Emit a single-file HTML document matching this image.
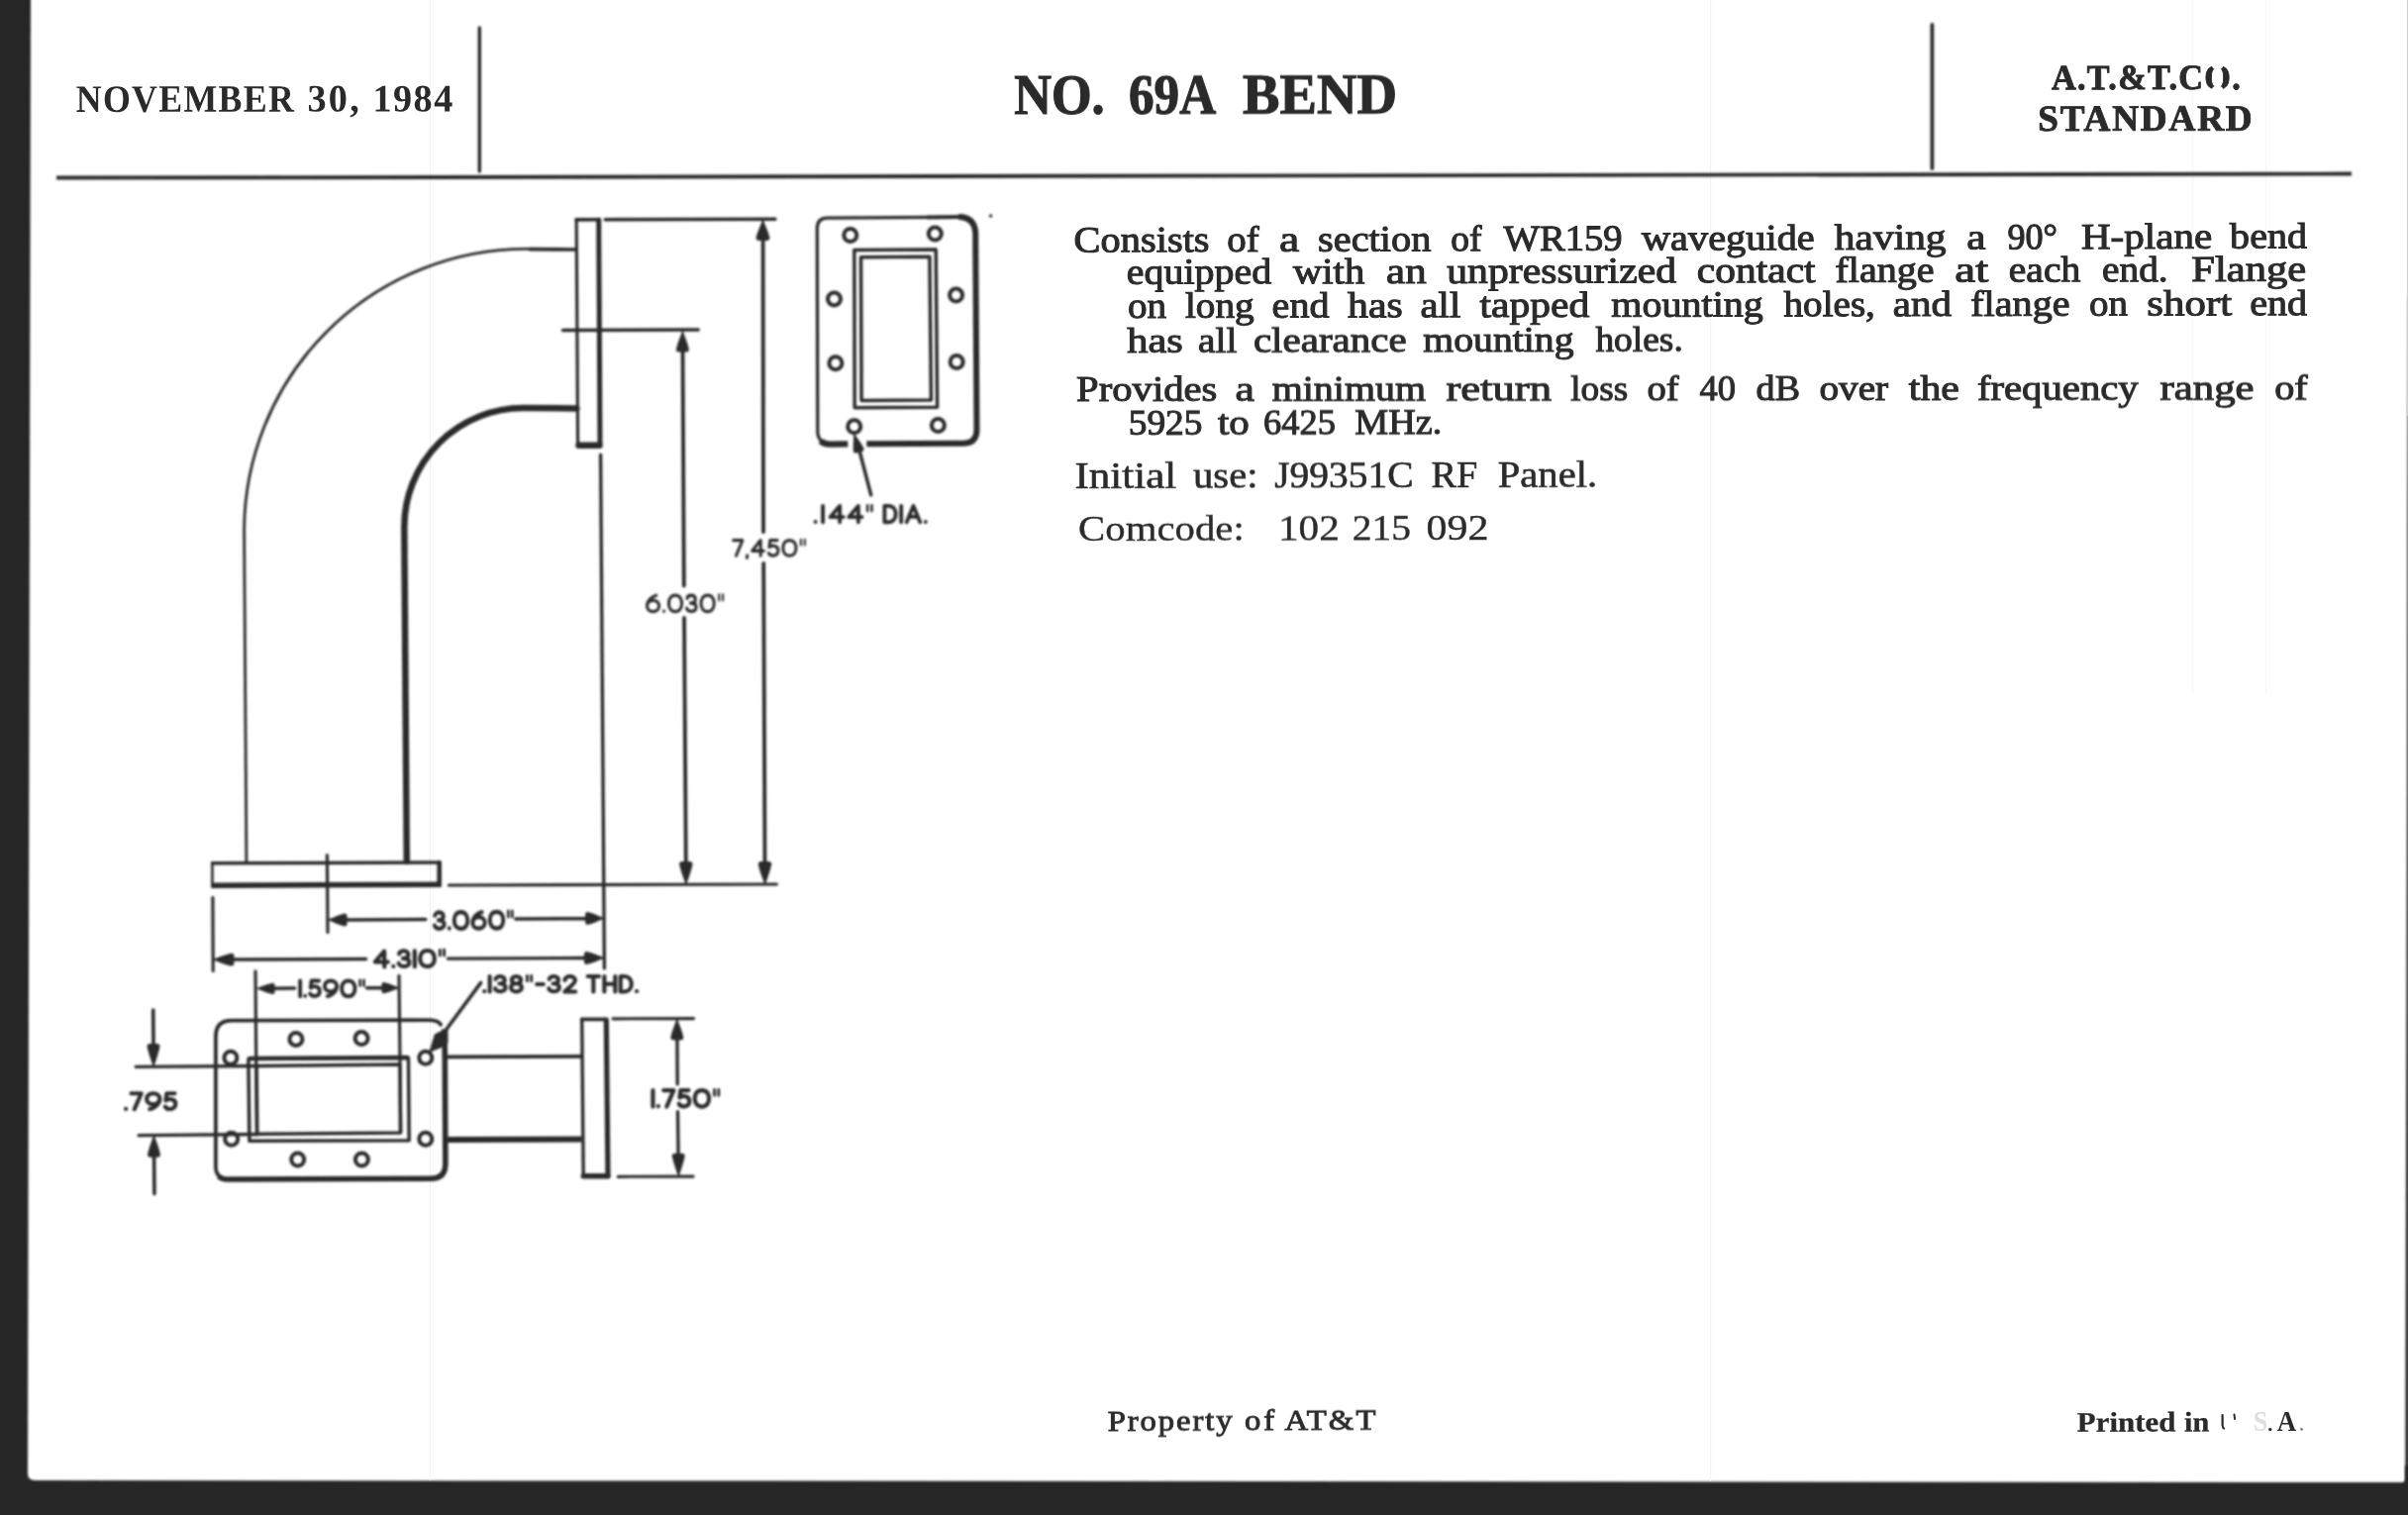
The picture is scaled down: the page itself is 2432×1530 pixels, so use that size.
<!DOCTYPE html>
<html><head><meta charset="utf-8"><title>No. 69A Bend</title>
<style>html,body{margin:0;padding:0;background:#fff;}body{width:2432px;height:1530px;overflow:hidden;}svg{display:block;font-family:"Liberation Serif",serif;}</style>
</head><body>
<svg width="2432" height="1530" viewBox="0 0 2432 1530">
<defs><filter id="soft" x="0" y="0" width="2432" height="1530" filterUnits="userSpaceOnUse"><feGaussianBlur stdDeviation="0.95"/></filter>
<filter id="softt" x="0" y="0" width="2432" height="1530" filterUnits="userSpaceOnUse"><feGaussianBlur stdDeviation="0.72"/></filter>
<filter id="soft2" x="0" y="0" width="2432" height="1530" filterUnits="userSpaceOnUse"><feGaussianBlur stdDeviation="1.2"/></filter></defs>
<rect x="0" y="0" width="2432" height="1530" fill="#ffffff"/>
<g filter="url(#soft2)">
<path d="M-5 -5 L31 -5 L31 0 L28 1488 Q28 1495 35 1495 L2426 1497 Q2429.4 1497 2429.4 1493 L2429.4 1480 L2440 1480 L2440 1540 L-5 1540 Z" fill="#262626"/>
</g>
<path d="M2432 300 L2431.3 520 L2430.9 800 L2429.9 1200 L2429.2 1500 L2433 1500 L2433 300 Z" fill="#262626" filter="url(#soft)"/>
<rect x="2431" y="0" width="1" height="420" fill="#cfcfcf"/>
<rect x="434" y="0" width="1.2" height="1495" fill="#f3f3f3"/>
<rect x="2214" y="0" width="1.2" height="700" fill="#f6f6f6"/>
<rect x="1727" y="0" width="1.2" height="1496" fill="#f3f3f3"/>
<rect x="2288" y="0" width="1.2" height="700" fill="#f7f7f7"/>
<g filter="url(#soft)" stroke="#2c2c2c" fill="none">
<path d="M57 177.6 L2375 173.6 L2375 177.4 L57 181.6 Z" fill="#2c2c2c" stroke="none"/>
<line x1="484.3" y1="28.0" x2="484.3" y2="173.0" stroke-width="3.4" stroke-linecap="round"/>
<line x1="1951.4" y1="25.0" x2="1951.4" y2="170.0" stroke-width="3.8" stroke-linecap="round"/>
<line x1="582.2" y1="221.6" x2="583.6" y2="449.0" stroke-width="3.2" stroke-linecap="round"/>
<line x1="582.0" y1="221.9" x2="605.0" y2="221.7" stroke-width="3.6" stroke-linecap="round"/>
<line x1="604.7" y1="222.0" x2="606.0" y2="449.0" stroke-width="5" stroke-linecap="round"/>
<line x1="584.5" y1="449.8" x2="605.5" y2="449.8" stroke-width="6.6" stroke-linecap="round"/>
<line x1="581.5" y1="252.0" x2="535.0" y2="251.6" stroke-width="3.6" stroke-linecap="round"/>
<path d="M540 251.5 L531.7 251.4 A285 285 0 0 0 246.6 536 L248.9 871.5" stroke-width="2.8" fill="none" stroke-linecap="round" stroke-linejoin="round" />
<path d="M582.5 412.4 L528.6 412 A120.3 120.3 0 0 0 408.3 532.3 L410.8 870" stroke-width="6.5" fill="none" stroke-linecap="round" stroke-linejoin="round" />
<line x1="214.4" y1="871.8" x2="214.4" y2="894.0" stroke-width="2.6" stroke-linecap="round"/>
<line x1="214.4" y1="871.8" x2="443.7" y2="871.0" stroke-width="3.4" stroke-linecap="round"/>
<line x1="443.7" y1="871.0" x2="443.7" y2="893.3" stroke-width="4.6" stroke-linecap="round"/>
<line x1="213.2" y1="894.2" x2="445.8" y2="893.2" stroke-width="5.6" stroke-linecap="butt"/>
<line x1="611.2" y1="221.7" x2="782.9" y2="221.3" stroke-width="3.5" stroke-linecap="round"/>
<line x1="770.6" y1="240.0" x2="771.0" y2="537.2" stroke-width="3.8" stroke-linecap="round"/>
<line x1="771.2" y1="569.0" x2="772.5" y2="875.0" stroke-width="3.8" stroke-linecap="round"/>
<path transform="translate(770.5 222.8) rotate(360.00)" d="M0 0 C1.90 5.46 5.40 12.09 6.35 17.55 Q6.35 19.50 3.81 19.50 L-3.81 19.50 Q-6.35 19.50 -6.35 17.55 C-5.40 12.09 -1.90 5.46 0 0 Z" fill="#2c2c2c" stroke="#2c2c2c" stroke-width="1.2" stroke-linejoin="round"/>
<path transform="translate(772.6 892.6) rotate(179.77)" d="M0 0 C1.83 6.16 5.18 13.64 6.10 19.80 Q6.10 22.00 3.66 22.00 L-3.66 22.00 Q-6.10 22.00 -6.10 19.80 C-5.18 13.64 -1.83 6.16 0 0 Z" fill="#2c2c2c" stroke="#2c2c2c" stroke-width="1.2" stroke-linejoin="round"/>
<line x1="568.5" y1="333.6" x2="705.2" y2="333.1" stroke-width="3.5" stroke-linecap="round"/>
<line x1="689.5" y1="350.0" x2="690.8" y2="591.5" stroke-width="3.8" stroke-linecap="round"/>
<line x1="691.0" y1="624.0" x2="692.8" y2="875.0" stroke-width="3.8" stroke-linecap="round"/>
<path transform="translate(689.4 335.0) rotate(360.00)" d="M0 0 C1.75 5.60 4.97 12.40 5.85 18.00 Q5.85 20.00 3.51 20.00 L-3.51 20.00 Q-5.85 20.00 -5.85 18.00 C-4.97 12.40 -1.75 5.60 0 0 Z" fill="#2c2c2c" stroke="#2c2c2c" stroke-width="1.2" stroke-linejoin="round"/>
<path transform="translate(692.9 892.6) rotate(179.77)" d="M0 0 C1.83 6.16 5.18 13.64 6.10 19.80 Q6.10 22.00 3.66 22.00 L-3.66 22.00 Q-6.10 22.00 -6.10 19.80 C-5.18 13.64 -1.83 6.16 0 0 Z" fill="#2c2c2c" stroke="#2c2c2c" stroke-width="1.2" stroke-linejoin="round"/>
<line x1="606.6" y1="459.2" x2="610.4" y2="977.9" stroke-width="3.4" stroke-linecap="round"/>
<line x1="453.3" y1="894.0" x2="784.4" y2="893.0" stroke-width="3.2" stroke-linecap="round"/>
<line x1="330.4" y1="863.5" x2="331.0" y2="941.5" stroke-width="3.2" stroke-linecap="round"/>
<line x1="214.9" y1="906.4" x2="215.2" y2="980.4" stroke-width="3.2" stroke-linecap="round"/>
<path transform="translate(332.0 929.0) rotate(270.00)" d="M0 0 C1.75 5.04 4.97 11.16 5.85 16.20 Q5.85 18.00 3.51 18.00 L-3.51 18.00 Q-5.85 18.00 -5.85 16.20 C-4.97 11.16 -1.75 5.04 0 0 Z" fill="#2c2c2c" stroke="#2c2c2c" stroke-width="1.2" stroke-linejoin="round"/>
<line x1="349.0" y1="929.0" x2="429.8" y2="928.6" stroke-width="3.5" stroke-linecap="round"/>
<line x1="520.8" y1="928.0" x2="592.0" y2="927.7" stroke-width="3.5" stroke-linecap="round"/>
<path transform="translate(609.2 927.4) rotate(90.00)" d="M0 0 C1.75 4.90 4.97 10.85 5.85 15.75 Q5.85 17.50 3.51 17.50 L-3.51 17.50 Q-5.85 17.50 -5.85 15.75 C-4.97 10.85 -1.75 4.90 0 0 Z" fill="#2c2c2c" stroke="#2c2c2c" stroke-width="1.2" stroke-linejoin="round"/>
<g transform="rotate(-0.5 478.1 929.4) translate(437.40 919.60) scale(0.1801 0.1960)" fill="none" stroke-linecap="round" stroke-linejoin="round">
<path transform="translate(0.0 0)" d="M10 24 C14 2 58 2 58 28 C58 44 42 48 30 48 C46 48 62.5 54 62.5 70 C62.5 98 12 98 7.5 74" stroke-width="21.5"/>
<path transform="translate(83.0 0)" d="M7.5 90 L7.5 91" stroke-width="21.5"/>
<path transform="translate(111.0 0)" d="M45 7.5 C20 7.5 7.5 26 7.5 50 C7.5 74 20 92.5 45 92.5 C70 92.5 82.5 74 82.5 50 C82.5 26 70 7.5 45 7.5 Z" stroke-width="21.5"/>
<path transform="translate(214.0 0)" d="M60 8 C36 12 7.5 36 7.5 63 C7.5 80 22 92.5 42 92.5 C62 92.5 76.5 80 76.5 63 C76.5 46 62 34 42 34 C24 34 10 46 8 60" stroke-width="21.5"/>
<path transform="translate(311.0 0)" d="M45 7.5 C20 7.5 7.5 26 7.5 50 C7.5 74 20 92.5 45 92.5 C70 92.5 82.5 74 82.5 50 C82.5 26 70 7.5 45 7.5 Z" stroke-width="21.5"/>
<path transform="translate(414.0 0)" d="M8 4 L8 34 M30 4 L30 34" stroke-width="15"/>
</g>
<path transform="translate(215.9 969.1) rotate(270.00)" d="M0 0 C1.75 5.60 4.97 12.40 5.85 18.00 Q5.85 20.00 3.51 20.00 L-3.51 20.00 Q-5.85 20.00 -5.85 18.00 C-4.97 12.40 -1.75 5.60 0 0 Z" fill="#2c2c2c" stroke="#2c2c2c" stroke-width="1.2" stroke-linejoin="round"/>
<line x1="235.0" y1="969.0" x2="369.6" y2="968.5" stroke-width="3.4" stroke-linecap="round"/>
<line x1="452.4" y1="968.1" x2="591.0" y2="967.5" stroke-width="3.4" stroke-linecap="round"/>
<path transform="translate(609.5 967.4) rotate(90.00)" d="M0 0 C1.75 5.32 4.97 11.78 5.85 17.10 Q5.85 19.00 3.51 19.00 L-3.51 19.00 Q-5.85 19.00 -5.85 17.10 C-4.97 11.78 -1.75 5.32 0 0 Z" fill="#2c2c2c" stroke="#2c2c2c" stroke-width="1.2" stroke-linejoin="round"/>
<g transform="rotate(-0.5 413.8 968.2) translate(377.30 958.80) scale(0.1944 0.1880)" fill="none" stroke-linecap="round" stroke-linejoin="round">
<path transform="translate(0.0 0)" d="M56 92.5 L56 7.5 L7.5 66 L74.5 66" stroke-width="21.5"/>
<path transform="translate(95.0 0)" d="M7.5 90 L7.5 91" stroke-width="21.5"/>
<path transform="translate(123.0 0)" d="M10 24 C14 2 58 2 58 28 C58 44 42 48 30 48 C46 48 62.5 54 62.5 70 C62.5 98 12 98 7.5 74" stroke-width="21.5"/>
<path transform="translate(206.0 0)" d="M7.5 7.5 L7.5 92.5" stroke-width="21.5"/>
<path transform="translate(234.0 0)" d="M45 7.5 C20 7.5 7.5 26 7.5 50 C7.5 74 20 92.5 45 92.5 C70 92.5 82.5 74 82.5 50 C82.5 26 70 7.5 45 7.5 Z" stroke-width="21.5"/>
<path transform="translate(337.0 0)" d="M8 4 L8 34 M30 4 L30 34" stroke-width="15"/>
</g>
<line x1="258.0" y1="980.9" x2="259.3" y2="1146.0" stroke-width="3.2" stroke-linecap="round"/>
<line x1="403.0" y1="985.4" x2="404.8" y2="1143.4" stroke-width="3.2" stroke-linecap="round"/>
<path transform="translate(260.0 998.3) rotate(270.00)" d="M0 0 C1.52 4.76 4.29 10.54 5.05 15.30 Q5.05 17.00 3.03 17.00 L-3.03 17.00 Q-5.05 17.00 -5.05 15.30 C-4.29 10.54 -1.52 4.76 0 0 Z" fill="#2c2c2c" stroke="#2c2c2c" stroke-width="1.2" stroke-linejoin="round"/>
<line x1="275.0" y1="998.2" x2="297.5" y2="998.1" stroke-width="3.5" stroke-linecap="round"/>
<line x1="370.5" y1="997.8" x2="388.0" y2="997.7" stroke-width="3.5" stroke-linecap="round"/>
<path transform="translate(402.5 997.6) rotate(90.00)" d="M0 0 C1.52 4.62 4.29 10.23 5.05 14.85 Q5.05 16.50 3.03 16.50 L-3.03 16.50 Q-5.05 16.50 -5.05 14.85 C-4.29 10.23 -1.52 4.62 0 0 Z" fill="#2c2c2c" stroke="#2c2c2c" stroke-width="1.2" stroke-linejoin="round"/>
<g transform="rotate(0 335.4 998.4) translate(301.80 989.20) scale(0.1780 0.1830)" fill="none" stroke-linecap="round" stroke-linejoin="round">
<path transform="translate(0.0 0)" d="M7.5 7.5 L7.5 92.5" stroke-width="21.5"/>
<path transform="translate(28.0 0)" d="M7.5 90 L7.5 91" stroke-width="21.5"/>
<path transform="translate(56.0 0)" d="M58 7.5 L16 7.5 L11 46 C28 32 62.5 36 62.5 64 C62.5 96 18 99 7.5 78" stroke-width="21.5"/>
<path transform="translate(139.0 0)" d="M24 92 C48 88 76.5 64 76.5 37 C76.5 20 62 7.5 42 7.5 C22 7.5 7.5 20 7.5 37 C7.5 54 22 66 42 66 C60 66 74 54 76 40" stroke-width="21.5"/>
<path transform="translate(236.0 0)" d="M45 7.5 C20 7.5 7.5 26 7.5 50 C7.5 74 20 92.5 45 92.5 C70 92.5 82.5 74 82.5 50 C82.5 26 70 7.5 45 7.5 Z" stroke-width="21.5"/>
<path transform="translate(339.0 0)" d="M8 4 L8 34 M30 4 L30 34" stroke-width="15"/>
</g>
<g transform="rotate(0 776.8 553.4) translate(739.30 544.20) scale(0.1750 0.1840)" fill="none" stroke-linecap="round" stroke-linejoin="round">
<path transform="translate(0.0 0)" d="M7.5 7.5 L60.5 7.5 L24 92.5" stroke-width="17"/>
<path transform="translate(81.0 0)" d="M7.5 90 L7.5 91 L5 104" stroke-width="17"/>
<path transform="translate(109.0 0)" d="M56 92.5 L56 7.5 L7.5 66 L74.5 66" stroke-width="17"/>
<path transform="translate(204.0 0)" d="M58 7.5 L16 7.5 L11 46 C28 32 62.5 36 62.5 64 C62.5 96 18 99 7.5 78" stroke-width="17"/>
<path transform="translate(287.0 0)" d="M45 7.5 C20 7.5 7.5 26 7.5 50 C7.5 74 20 92.5 45 92.5 C70 92.5 82.5 74 82.5 50 C82.5 26 70 7.5 45 7.5 Z" stroke-width="17"/>
<path transform="translate(390.0 0)" d="M8 4 L8 34 M30 4 L30 34" stroke-width="12"/>
</g>
<g transform="rotate(0 691.9 609.4) translate(652.20 599.70) scale(0.1754 0.1940)" fill="none" stroke-linecap="round" stroke-linejoin="round">
<path transform="translate(0.0 0)" d="M60 8 C36 12 7.5 36 7.5 63 C7.5 80 22 92.5 42 92.5 C62 92.5 76.5 80 76.5 63 C76.5 46 62 34 42 34 C24 34 10 46 8 60" stroke-width="17"/>
<path transform="translate(97.0 0)" d="M7.5 90 L7.5 91" stroke-width="17"/>
<path transform="translate(125.0 0)" d="M45 7.5 C20 7.5 7.5 26 7.5 50 C7.5 74 20 92.5 45 92.5 C70 92.5 82.5 74 82.5 50 C82.5 26 70 7.5 45 7.5 Z" stroke-width="17"/>
<path transform="translate(228.0 0)" d="M10 24 C14 2 58 2 58 28 C58 44 42 48 30 48 C46 48 62.5 54 62.5 70 C62.5 98 12 98 7.5 74" stroke-width="17"/>
<path transform="translate(311.0 0)" d="M45 7.5 C20 7.5 7.5 26 7.5 50 C7.5 74 20 92.5 45 92.5 C70 92.5 82.5 74 82.5 50 C82.5 26 70 7.5 45 7.5 Z" stroke-width="17"/>
<path transform="translate(414.0 0)" d="M8 4 L8 34 M30 4 L30 34" stroke-width="12"/>
</g>
<g transform="rotate(0 879.2 519.1) translate(822.10 509.40) scale(0.1972 0.1940)" fill="none" stroke-linecap="round" stroke-linejoin="round">
<path transform="translate(0.0 0)" d="M7.5 90 L7.5 91" stroke-width="19.5"/>
<path transform="translate(38.0 0)" d="M7.5 7.5 L7.5 92.5" stroke-width="19.5"/>
<path transform="translate(76.0 0)" d="M56 92.5 L56 7.5 L7.5 66 L74.5 66" stroke-width="19.5"/>
<path transform="translate(171.0 0)" d="M56 92.5 L56 7.5 L7.5 66 L74.5 66" stroke-width="19.5"/>
<path transform="translate(266.0 0)" d="M8 4 L8 34 M30 4 L30 34" stroke-width="13"/>
<path transform="translate(354.0 0)" d="M7.5 7.5 L7.5 92.5 L26 92.5 C78 92.5 78 7.5 26 7.5 Z" stroke-width="19.5"/>
<path transform="translate(439.0 0)" d="M7.5 7.5 L7.5 92.5" stroke-width="19.5"/>
<path transform="translate(467.0 0)" d="M7.5 92.5 L42 7.5 L76.5 92.5 M20 64 L64 64" stroke-width="19.5"/>
<path transform="translate(564.0 0)" d="M7.5 90 L7.5 91" stroke-width="19.5"/>
</g>
<path d="M220.90 1187.20 Q217.9 1184.20 217.9 1178.2 L217.9 1046.6 Q217.9 1030.6 233.9 1030.6 L432.9 1030.1999999999998 Q442.9 1030.3999999999999 445.09999999999997 1034.8" stroke-width="3.8" fill="none" stroke-linecap="round" stroke-linejoin="round" />
<path d="M449.0 1039.1 L449.29999999999995 1070.6 L449.9 1175.2 Q449.9 1190.2 434.9 1190.2 L229.9 1191.0 Q223.90 1191.0 220.90 1187.80" stroke-width="5.6" fill="none" stroke-linecap="butt" stroke-linejoin="round" />
<circle cx="298.9" cy="1049.4" r="6.5" stroke-width="4.0" fill="none"/>
<circle cx="365.1" cy="1048.6" r="6.5" stroke-width="4.0" fill="none"/>
<circle cx="232.9" cy="1068.2" r="6.5" stroke-width="4.0" fill="none"/>
<circle cx="233.7" cy="1150.2" r="6.5" stroke-width="4.0" fill="none"/>
<circle cx="429.8" cy="1068.2" r="6.5" stroke-width="4.0" fill="none"/>
<circle cx="429.8" cy="1150.2" r="6.5" stroke-width="4.0" fill="none"/>
<circle cx="300.7" cy="1171.0" r="6.5" stroke-width="4.0" fill="none"/>
<circle cx="365.4" cy="1171.0" r="6.5" stroke-width="4.0" fill="none"/>
<path d="M250.9 1069.4 L412.5 1068.4 L413.2 1151.7 L251.9 1152.3 Z" stroke-width="3.5" fill="none" stroke-linecap="round" stroke-linejoin="round" />
<line x1="252.0" y1="1068.9" x2="411.5" y2="1067.9" stroke-width="4.2" stroke-linecap="round"/>
<path d="M259.1 1076.5 L404 1075.1 L404.4 1144.1 L259.8 1145.3 Z" stroke-width="3.5" fill="none" stroke-linecap="round" stroke-linejoin="round" />
<line x1="137.1" y1="1077.3" x2="259.0" y2="1076.5" stroke-width="3.3" stroke-linecap="round"/>
<line x1="140.1" y1="1146.7" x2="259.5" y2="1145.5" stroke-width="3.3" stroke-linecap="round"/>
<line x1="154.7" y1="1020.0" x2="155.0" y2="1058.0" stroke-width="3.6" stroke-linecap="round"/>
<path transform="translate(155.1 1076.6) rotate(179.77)" d="M0 0 C1.75 6.16 4.97 13.64 5.85 19.80 Q5.85 22.00 3.51 22.00 L-3.51 22.00 Q-5.85 22.00 -5.85 19.80 C-4.97 13.64 -1.75 6.16 0 0 Z" fill="#2c2c2c" stroke="#2c2c2c" stroke-width="1.2" stroke-linejoin="round"/>
<path transform="translate(155.5 1147.2) rotate(360.00)" d="M0 0 C1.75 5.88 4.97 13.02 5.85 18.90 Q5.85 21.00 3.51 21.00 L-3.51 21.00 Q-5.85 21.00 -5.85 18.90 C-4.97 13.02 -1.75 5.88 0 0 Z" fill="#2c2c2c" stroke="#2c2c2c" stroke-width="1.2" stroke-linejoin="round"/>
<line x1="155.6" y1="1165.0" x2="155.9" y2="1205.6" stroke-width="3.6" stroke-linecap="round"/>
<g transform="rotate(0 152.2 1112.2) translate(125.70 1102.90) scale(0.1924 0.1870)" fill="none" stroke-linecap="round" stroke-linejoin="round">
<path transform="translate(0.0 0)" d="M7.5 90 L7.5 91" stroke-width="21.5"/>
<path transform="translate(28.0 0)" d="M7.5 7.5 L60.5 7.5 L24 92.5" stroke-width="21.5"/>
<path transform="translate(109.0 0)" d="M24 92 C48 88 76.5 64 76.5 37 C76.5 20 62 7.5 42 7.5 C22 7.5 7.5 20 7.5 37 C7.5 54 22 66 42 66 C60 66 74 54 76 40" stroke-width="21.5"/>
<path transform="translate(206.0 0)" d="M58 7.5 L16 7.5 L11 46 C28 32 62.5 36 62.5 64 C62.5 96 18 99 7.5 78" stroke-width="21.5"/>
</g>
<line x1="485.7" y1="992.4" x2="449.0" y2="1042.0" stroke-width="3.6" stroke-linecap="round"/>
<path d="M439.6 1045 L451.6 1039 L451.8 1052.5 L444.8 1057.5 L434.4 1061.8 Z" fill="#2c2c2c" stroke="#2c2c2c" stroke-width="1.6" stroke-linejoin="round"/>
<g transform="rotate(0 566.1 993.7) translate(487.80 984.60) scale(0.1923 0.1820)" fill="none" stroke-linecap="round" stroke-linejoin="round">
<path transform="translate(0.0 0)" d="M7.5 90 L7.5 91" stroke-width="21.5"/>
<path transform="translate(28.0 0)" d="M7.5 7.5 L7.5 92.5" stroke-width="21.5"/>
<path transform="translate(56.0 0)" d="M10 24 C14 2 58 2 58 28 C58 44 42 48 30 48 C46 48 62.5 54 62.5 70 C62.5 98 12 98 7.5 74" stroke-width="21.5"/>
<path transform="translate(139.0 0)" d="M36 48 C20 48 12 39 12 28 C12 16 22 7.5 36 7.5 C50 7.5 60 16 60 28 C60 39 52 48 36 48 C18 48 7.5 58 7.5 70 C7.5 83 20 92.5 36 92.5 C52 92.5 64.5 83 64.5 70 C64.5 58 54 48 36 48 Z" stroke-width="21.5"/>
<path transform="translate(224.0 0)" d="M8 4 L8 34 M30 4 L30 34" stroke-width="15"/>
<path transform="translate(275.0 0)" d="M7.5 52 L42.5 52" stroke-width="21.5"/>
<path transform="translate(338.0 0)" d="M10 24 C14 2 58 2 58 28 C58 44 42 48 30 48 C46 48 62.5 54 62.5 70 C62.5 98 12 98 7.5 74" stroke-width="21.5"/>
<path transform="translate(421.0 0)" d="M9 30 C9 0 63 0 63 30 C63 50 30 68 8 92.5 L64.5 92.5" stroke-width="21.5"/>
<path transform="translate(543.0 0)" d="M7.5 7.5 L66.5 7.5 M37 7.5 L37 92.5" stroke-width="21.5"/>
<path transform="translate(630.0 0)" d="M7.5 7.5 L7.5 92.5 M64.5 7.5 L64.5 92.5 M7.5 50 L64.5 50" stroke-width="21.5"/>
<path transform="translate(715.0 0)" d="M7.5 7.5 L7.5 92.5 L26 92.5 C78 92.5 78 7.5 26 7.5 Z" stroke-width="21.5"/>
<path transform="translate(800.0 0)" d="M7.5 90 L7.5 91" stroke-width="21.5"/>
</g>
<line x1="451.2" y1="1067.4" x2="587.5" y2="1066.8" stroke-width="3.8" stroke-linecap="round"/>
<line x1="452.0" y1="1151.0" x2="587.0" y2="1150.5" stroke-width="6" stroke-linecap="butt"/>
<line x1="587.7" y1="1029.3" x2="589.2" y2="1187.7" stroke-width="3.4" stroke-linecap="round"/>
<line x1="587.7" y1="1029.3" x2="612.1" y2="1029.3" stroke-width="3.7" stroke-linecap="round"/>
<line x1="612.3" y1="1030.0" x2="614.0" y2="1187.6" stroke-width="5.2" stroke-linecap="round"/>
<line x1="589.2" y1="1187.8" x2="614.0" y2="1187.8" stroke-width="5.4" stroke-linecap="round"/>
<line x1="619.1" y1="1028.8" x2="700.5" y2="1028.6" stroke-width="3.2" stroke-linecap="round"/>
<line x1="624.3" y1="1188.3" x2="700.1" y2="1188.1" stroke-width="3.2" stroke-linecap="round"/>
<path transform="translate(683.8 1029.8) rotate(360.00)" d="M0 0 C1.75 5.60 4.97 12.40 5.85 18.00 Q5.85 20.00 3.51 20.00 L-3.51 20.00 Q-5.85 20.00 -5.85 18.00 C-4.97 12.40 -1.75 5.60 0 0 Z" fill="#2c2c2c" stroke="#2c2c2c" stroke-width="1.2" stroke-linejoin="round"/>
<line x1="683.9" y1="1047.0" x2="684.2" y2="1094.9" stroke-width="3.4" stroke-linecap="round"/>
<line x1="684.5" y1="1122.7" x2="685.1" y2="1166.0" stroke-width="3.4" stroke-linecap="round"/>
<path transform="translate(685.3 1187.3) rotate(179.77)" d="M0 0 C1.75 6.16 4.97 13.64 5.85 19.80 Q5.85 22.00 3.51 22.00 L-3.51 22.00 Q-5.85 22.00 -5.85 19.80 C-4.97 13.64 -1.75 6.16 0 0 Z" fill="#2c2c2c" stroke="#2c2c2c" stroke-width="1.2" stroke-linejoin="round"/>
<g transform="rotate(0 692.6 1109.3) translate(658.00 1099.60) scale(0.1920 0.1940)" fill="none" stroke-linecap="round" stroke-linejoin="round">
<path transform="translate(0.0 0)" d="M7.5 7.5 L7.5 92.5" stroke-width="21.5"/>
<path transform="translate(28.0 0)" d="M7.5 90 L7.5 91" stroke-width="21.5"/>
<path transform="translate(56.0 0)" d="M7.5 7.5 L60.5 7.5 L24 92.5" stroke-width="21.5"/>
<path transform="translate(137.0 0)" d="M58 7.5 L16 7.5 L11 46 C28 32 62.5 36 62.5 64 C62.5 96 18 99 7.5 78" stroke-width="21.5"/>
<path transform="translate(220.0 0)" d="M45 7.5 C20 7.5 7.5 26 7.5 50 C7.5 74 20 92.5 45 92.5 C70 92.5 82.5 74 82.5 50 C82.5 26 70 7.5 45 7.5 Z" stroke-width="21.5"/>
<path transform="translate(323.0 0)" d="M8 4 L8 34 M30 4 L30 34" stroke-width="15"/>
</g>
<path d="M828.92 444.68 Q825.8 441.55 825.8 435.3 L825.3 230.7 Q825.3 220.2 835.8 220.2 L940.2 219.39999999999998" stroke-width="3.3" fill="none" stroke-linecap="round" stroke-linejoin="round" />
<path d="M936.2 219.39999999999998 L970.2 219.0" stroke-width="4.0" fill="none" stroke-linecap="butt" stroke-linejoin="round" />
<path d="M968.2 219.0 Q984.2 219.2 985.2 235.2 L986.5 433.8 Q986.5 447.8 972.5 447.8 L875.3 448.3" stroke-width="6.0" fill="none" stroke-linecap="butt" stroke-linejoin="round" />
<path d="M856.3 448.40000000000003 L838.3 448.6 Q832.05 448.6 828.92 445.28" stroke-width="6.4" fill="none" stroke-linecap="butt" stroke-linejoin="round" />
<circle cx="858.8" cy="237.5" r="6.5" stroke-width="4.0" fill="none"/>
<circle cx="944.3" cy="236.1" r="6.5" stroke-width="4.0" fill="none"/>
<circle cx="842.5" cy="301.9" r="6.5" stroke-width="4.0" fill="none"/>
<circle cx="965.6" cy="298.1" r="6.5" stroke-width="4.0" fill="none"/>
<circle cx="843.9" cy="366.8" r="6.5" stroke-width="4.0" fill="none"/>
<circle cx="966.2" cy="365.5" r="6.5" stroke-width="4.0" fill="none"/>
<circle cx="862.7" cy="430.7" r="6.5" stroke-width="4.0" fill="none"/>
<circle cx="947.4" cy="429.5" r="6.5" stroke-width="4.0" fill="none"/>
<path d="M862.8 252.5 L945.2 252 L946.6 411.2 L863.2 411.7 Z" stroke-width="3.5" fill="none" stroke-linecap="round" stroke-linejoin="round" />
<path d="M869.5 259.8 L938.9 259.3 L940.4 404 L870.1 404.5 Z" stroke-width="3.5" fill="none" stroke-linecap="round" stroke-linejoin="round" />
<line x1="868.0" y1="455.0" x2="879.7" y2="499.9" stroke-width="3.5" stroke-linecap="round"/>
<path transform="translate(862.8 438.8) rotate(344.45)" d="M0 0 C1.45 5.04 4.12 11.16 4.85 16.20 Q4.85 18.00 2.91 18.00 L-2.91 18.00 Q-4.85 18.00 -4.85 16.20 C-4.12 11.16 -1.45 5.04 0 0 Z" fill="#2c2c2c" stroke="#2c2c2c" stroke-width="1.2" stroke-linejoin="round"/>
<circle cx="1000.6" cy="218" r="1.7" fill="#2c2c2c" stroke="none"/>
</g>
<g filter="url(#softt)" stroke="#2c2c2c" fill="none">
<g transform="rotate(-0.097 77.4 113.0)">
<text transform="translate(76.8 113.0) scale(0.92 1)" font-size="39" textLength="239.2" lengthAdjust="spacing" fill="#2c2c2c" font-weight="bold" stroke="none">NOVEMBER</text>
<text transform="translate(310.4 113.0) scale(0.98 1)" font-size="39" textLength="53.4" lengthAdjust="spacing" fill="#2c2c2c" font-weight="bold" stroke="none">30,</text>
<text transform="translate(376.4 113.0) scale(0.98 1)" font-size="39" textLength="82.6" lengthAdjust="spacing" fill="#2c2c2c" font-weight="bold" stroke="none">1984</text>
</g>
<g transform="rotate(-0.097 1025.0 114.5)">
<text x="1024.2" y="114.5" font-size="56.5" textLength="91.5" lengthAdjust="spacingAndGlyphs" fill="#2c2c2c" font-weight="bold" stroke="#2c2c2c" stroke-width="1.1">NO.</text>
<text x="1139.9" y="114.5" font-size="56.5" textLength="88.3" lengthAdjust="spacingAndGlyphs" fill="#2c2c2c" font-weight="bold" stroke="#2c2c2c" stroke-width="1.1">69A</text>
<text x="1255.0" y="114.5" font-size="56.5" textLength="156.2" lengthAdjust="spacingAndGlyphs" fill="#2c2c2c" font-weight="bold" stroke="#2c2c2c" stroke-width="1.1">BEND</text>
</g>
<g transform="rotate(-0.097 2072.5 90.2)">
<text transform="translate(2071.9 90.2) scale(0.96 1)" font-size="35.7" textLength="198.9" lengthAdjust="spacing" fill="#2c2c2c" font-weight="bold" stroke="#2c2c2c" stroke-width="0.9">A.T.&amp;T.CO.</text>
</g>
<ellipse cx="2239.6" cy="66.6" rx="5.5" ry="3.6" fill="#fff" stroke="none"/>
<ellipse cx="2239.6" cy="90.1" rx="5.5" ry="3.6" fill="#fff" stroke="none"/>
<g transform="rotate(-0.097 2058.8 132.0)">
<text transform="translate(2058.2 132.0) scale(1.0 1)" font-size="37.2" textLength="216.5" lengthAdjust="spacing" fill="#2c2c2c" font-weight="bold" stroke="#2c2c2c" stroke-width="0.9">STANDARD</text>
</g>
<g transform="rotate(-0.189 1085.4 254.5)">
<text x="1084.6" y="254.5" font-size="36.8" textLength="137.0" lengthAdjust="spacingAndGlyphs" fill="#2c2c2c" stroke="#2c2c2c" stroke-width="1.05">Consists</text>
<text x="1239.3" y="254.5" font-size="36.8" textLength="32.4" lengthAdjust="spacingAndGlyphs" fill="#2c2c2c" stroke="#2c2c2c" stroke-width="1.05">of</text>
<text x="1291.9" y="254.5" font-size="36.8" textLength="20.3" lengthAdjust="spacingAndGlyphs" fill="#2c2c2c" stroke="#2c2c2c" stroke-width="1.05">a</text>
<text x="1331.0" y="254.5" font-size="36.8" textLength="114.4" lengthAdjust="spacingAndGlyphs" fill="#2c2c2c" stroke="#2c2c2c" stroke-width="1.05">section</text>
<text x="1465.2" y="254.5" font-size="36.8" textLength="31.3" lengthAdjust="spacingAndGlyphs" fill="#2c2c2c" stroke="#2c2c2c" stroke-width="1.05">of</text>
<text x="1518.4" y="254.5" font-size="36.8" textLength="120.3" lengthAdjust="spacingAndGlyphs" fill="#2c2c2c" stroke="#2c2c2c" stroke-width="1.05">WR159</text>
<text x="1657.9" y="254.5" font-size="36.8" textLength="174.9" lengthAdjust="spacingAndGlyphs" fill="#2c2c2c" stroke="#2c2c2c" stroke-width="1.05">waveguide</text>
<text x="1852.8" y="254.5" font-size="36.8" textLength="112.8" lengthAdjust="spacingAndGlyphs" fill="#2c2c2c" stroke="#2c2c2c" stroke-width="1.05">having</text>
<text x="1986.2" y="254.5" font-size="36.8" textLength="19.3" lengthAdjust="spacingAndGlyphs" fill="#2c2c2c" stroke="#2c2c2c" stroke-width="1.05">a</text>
<text x="2027.4" y="254.5" font-size="36.8" textLength="50.7" lengthAdjust="spacingAndGlyphs" fill="#2c2c2c" stroke="#2c2c2c" stroke-width="1.05">90°</text>
<text x="2101.9" y="254.5" font-size="36.8" textLength="132.3" lengthAdjust="spacingAndGlyphs" fill="#2c2c2c" stroke="#2c2c2c" stroke-width="1.05">H-plane</text>
<text x="2252.1" y="254.5" font-size="36.8" textLength="78.0" lengthAdjust="spacingAndGlyphs" fill="#2c2c2c" stroke="#2c2c2c" stroke-width="1.05">bend</text>
</g>
<g transform="rotate(-0.143 1138.6 286.7)">
<text x="1137.8" y="286.7" font-size="36.8" textLength="146.4" lengthAdjust="spacingAndGlyphs" fill="#2c2c2c" stroke="#2c2c2c" stroke-width="1.05">equipped</text>
<text x="1306.0" y="286.7" font-size="36.8" textLength="72.2" lengthAdjust="spacingAndGlyphs" fill="#2c2c2c" stroke="#2c2c2c" stroke-width="1.05">with</text>
<text x="1400.1" y="286.7" font-size="36.8" textLength="40.5" lengthAdjust="spacingAndGlyphs" fill="#2c2c2c" stroke="#2c2c2c" stroke-width="1.05">an</text>
<text x="1461.2" y="286.7" font-size="36.8" textLength="232.0" lengthAdjust="spacingAndGlyphs" fill="#2c2c2c" stroke="#2c2c2c" stroke-width="1.05">unpressurized</text>
<text x="1713.8" y="286.7" font-size="36.8" textLength="119.8" lengthAdjust="spacingAndGlyphs" fill="#2c2c2c" stroke="#2c2c2c" stroke-width="1.05">contact</text>
<text x="1853.4" y="286.7" font-size="36.8" textLength="100.3" lengthAdjust="spacingAndGlyphs" fill="#2c2c2c" stroke="#2c2c2c" stroke-width="1.05">flange</text>
<text x="1974.3" y="286.7" font-size="36.8" textLength="33.9" lengthAdjust="spacingAndGlyphs" fill="#2c2c2c" stroke="#2c2c2c" stroke-width="1.05">at</text>
<text x="2028.8" y="286.7" font-size="36.8" textLength="72.4" lengthAdjust="spacingAndGlyphs" fill="#2c2c2c" stroke="#2c2c2c" stroke-width="1.05">each</text>
<text x="2123.1" y="286.7" font-size="36.8" textLength="66.6" lengthAdjust="spacingAndGlyphs" fill="#2c2c2c" stroke="#2c2c2c" stroke-width="1.05">end.</text>
<text x="2213.2" y="286.7" font-size="36.8" textLength="116.0" lengthAdjust="spacingAndGlyphs" fill="#2c2c2c" stroke="#2c2c2c" stroke-width="1.05">Flange</text>
</g>
<g transform="rotate(-0.138 1139.8 321.0)">
<text x="1139.0" y="321.0" font-size="36.8" textLength="39.2" lengthAdjust="spacingAndGlyphs" fill="#2c2c2c" stroke="#2c2c2c" stroke-width="1.05">on</text>
<text x="1196.9" y="321.0" font-size="36.8" textLength="69.8" lengthAdjust="spacingAndGlyphs" fill="#2c2c2c" stroke="#2c2c2c" stroke-width="1.05">long</text>
<text x="1284.6" y="321.0" font-size="36.8" textLength="57.9" lengthAdjust="spacingAndGlyphs" fill="#2c2c2c" stroke="#2c2c2c" stroke-width="1.05">end</text>
<text x="1361.0" y="321.0" font-size="36.8" textLength="55.7" lengthAdjust="spacingAndGlyphs" fill="#2c2c2c" stroke="#2c2c2c" stroke-width="1.05">has</text>
<text x="1434.6" y="321.0" font-size="36.8" textLength="40.6" lengthAdjust="spacingAndGlyphs" fill="#2c2c2c" stroke="#2c2c2c" stroke-width="1.05">all</text>
<text x="1494.4" y="321.0" font-size="36.8" textLength="111.0" lengthAdjust="spacingAndGlyphs" fill="#2c2c2c" stroke="#2c2c2c" stroke-width="1.05">tapped</text>
<text x="1627.3" y="321.0" font-size="36.8" textLength="153.6" lengthAdjust="spacingAndGlyphs" fill="#2c2c2c" stroke="#2c2c2c" stroke-width="1.05">mounting</text>
<text x="1801.5" y="321.0" font-size="36.8" textLength="92.4" lengthAdjust="spacingAndGlyphs" fill="#2c2c2c" stroke="#2c2c2c" stroke-width="1.05">holes,</text>
<text x="1911.8" y="321.0" font-size="36.8" textLength="59.2" lengthAdjust="spacingAndGlyphs" fill="#2c2c2c" stroke="#2c2c2c" stroke-width="1.05">and</text>
<text x="1990.2" y="321.0" font-size="36.8" textLength="100.4" lengthAdjust="spacingAndGlyphs" fill="#2c2c2c" stroke="#2c2c2c" stroke-width="1.05">flange</text>
<text x="2110.0" y="321.0" font-size="36.8" textLength="39.1" lengthAdjust="spacingAndGlyphs" fill="#2c2c2c" stroke="#2c2c2c" stroke-width="1.05">on</text>
<text x="2168.3" y="321.0" font-size="36.8" textLength="85.9" lengthAdjust="spacingAndGlyphs" fill="#2c2c2c" stroke="#2c2c2c" stroke-width="1.05">short</text>
<text x="2272.2" y="321.0" font-size="36.8" textLength="58.0" lengthAdjust="spacingAndGlyphs" fill="#2c2c2c" stroke="#2c2c2c" stroke-width="1.05">end</text>
</g>
<g transform="rotate(-0.143 1139.0 355.7)">
<text x="1138.2" y="355.7" font-size="36.8" textLength="56.6" lengthAdjust="spacingAndGlyphs" fill="#2c2c2c" stroke="#2c2c2c" stroke-width="1.05">has</text>
<text x="1210.1" y="355.7" font-size="36.8" textLength="39.2" lengthAdjust="spacingAndGlyphs" fill="#2c2c2c" stroke="#2c2c2c" stroke-width="1.05">all</text>
<text x="1265.9" y="355.7" font-size="36.8" textLength="154.8" lengthAdjust="spacingAndGlyphs" fill="#2c2c2c" stroke="#2c2c2c" stroke-width="1.05">clearance</text>
<text x="1437.3" y="355.7" font-size="36.8" textLength="152.2" lengthAdjust="spacingAndGlyphs" fill="#2c2c2c" stroke="#2c2c2c" stroke-width="1.05">mounting</text>
<text x="1611.4" y="355.7" font-size="36.8" textLength="88.4" lengthAdjust="spacingAndGlyphs" fill="#2c2c2c" stroke="#2c2c2c" stroke-width="1.05">holes.</text>
</g>
<g transform="rotate(-0.069 1087.9 405.4)">
<text x="1087.1" y="405.4" font-size="36.8" textLength="142.3" lengthAdjust="spacingAndGlyphs" fill="#2c2c2c" stroke="#2c2c2c" stroke-width="1.05">Provides</text>
<text x="1247.4" y="405.4" font-size="36.8" textLength="19.4" lengthAdjust="spacingAndGlyphs" fill="#2c2c2c" stroke="#2c2c2c" stroke-width="1.05">a</text>
<text x="1284.7" y="405.4" font-size="36.8" textLength="155.3" lengthAdjust="spacingAndGlyphs" fill="#2c2c2c" stroke="#2c2c2c" stroke-width="1.05">minimum</text>
<text x="1460.4" y="405.4" font-size="36.8" textLength="106.7" lengthAdjust="spacingAndGlyphs" fill="#2c2c2c" stroke="#2c2c2c" stroke-width="1.05">return</text>
<text x="1586.2" y="405.4" font-size="36.8" textLength="58.1" lengthAdjust="spacingAndGlyphs" fill="#2c2c2c" stroke="#2c2c2c" stroke-width="1.05">loss</text>
<text x="1663.5" y="405.4" font-size="36.8" textLength="32.2" lengthAdjust="spacingAndGlyphs" fill="#2c2c2c" stroke="#2c2c2c" stroke-width="1.05">of</text>
<text x="1716.5" y="405.4" font-size="36.8" textLength="36.5" lengthAdjust="spacingAndGlyphs" fill="#2c2c2c" stroke="#2c2c2c" stroke-width="1.05">40</text>
<text x="1773.6" y="405.4" font-size="36.8" textLength="44.5" lengthAdjust="spacingAndGlyphs" fill="#2c2c2c" stroke="#2c2c2c" stroke-width="1.05">dB</text>
<text x="1837.4" y="405.4" font-size="36.8" textLength="69.8" lengthAdjust="spacingAndGlyphs" fill="#2c2c2c" stroke="#2c2c2c" stroke-width="1.05">over</text>
<text x="1927.8" y="405.4" font-size="36.8" textLength="51.1" lengthAdjust="spacingAndGlyphs" fill="#2c2c2c" stroke="#2c2c2c" stroke-width="1.05">the</text>
<text x="1996.9" y="405.4" font-size="36.8" textLength="162.8" lengthAdjust="spacingAndGlyphs" fill="#2c2c2c" stroke="#2c2c2c" stroke-width="1.05">frequency</text>
<text x="2181.6" y="405.4" font-size="36.8" textLength="95.0" lengthAdjust="spacingAndGlyphs" fill="#2c2c2c" stroke="#2c2c2c" stroke-width="1.05">range</text>
<text x="2297.2" y="405.4" font-size="36.8" textLength="33.5" lengthAdjust="spacingAndGlyphs" fill="#2c2c2c" stroke="#2c2c2c" stroke-width="1.05">of</text>
</g>
<g transform="rotate(-0.143 1140.5 439.3)">
<text x="1139.7" y="439.3" font-size="36.8" textLength="74.8" lengthAdjust="spacingAndGlyphs" fill="#2c2c2c" stroke="#2c2c2c" stroke-width="1.05">5925</text>
<text x="1229.9" y="439.3" font-size="36.8" textLength="31.9" lengthAdjust="spacingAndGlyphs" fill="#2c2c2c" stroke="#2c2c2c" stroke-width="1.05">to</text>
<text x="1276.0" y="439.3" font-size="36.8" textLength="73.0" lengthAdjust="spacingAndGlyphs" fill="#2c2c2c" stroke="#2c2c2c" stroke-width="1.05">6425</text>
<text x="1368.2" y="439.3" font-size="36.8" textLength="88.0" lengthAdjust="spacingAndGlyphs" fill="#2c2c2c" stroke="#2c2c2c" stroke-width="1.05">MHz.</text>
</g>
<g transform="rotate(-0.143 1086.2 492.6)">
<text x="1085.4" y="492.6" font-size="37.5" textLength="102.9" lengthAdjust="spacingAndGlyphs" fill="#2c2c2c" stroke="#2c2c2c" stroke-width="0.6">Initial</text>
<text x="1205.0" y="492.6" font-size="37.5" textLength="65.5" lengthAdjust="spacingAndGlyphs" fill="#2c2c2c" stroke="#2c2c2c" stroke-width="0.6">use:</text>
<text x="1287.2" y="492.6" font-size="37.5" textLength="140.3" lengthAdjust="spacingAndGlyphs" fill="#2c2c2c" stroke="#2c2c2c" stroke-width="0.6">J99351C</text>
<text x="1445.5" y="492.6" font-size="37.5" textLength="46.8" lengthAdjust="spacingAndGlyphs" fill="#2c2c2c" stroke="#2c2c2c" stroke-width="0.6">RF</text>
<text x="1512.7" y="492.6" font-size="37.5" textLength="100.5" lengthAdjust="spacingAndGlyphs" fill="#2c2c2c" stroke="#2c2c2c" stroke-width="0.6">Panel.</text>
</g>
<g transform="rotate(-0.143 1089.9 546.4)">
<text x="1089.1" y="546.4" font-size="35.5" textLength="167.7" lengthAdjust="spacingAndGlyphs" fill="#2c2c2c" stroke="#2c2c2c" stroke-width="0.35">Comcode:</text>
<text x="1291.0" y="546.4" font-size="35.5" textLength="61.8" lengthAdjust="spacingAndGlyphs" fill="#2c2c2c" stroke="#2c2c2c" stroke-width="0.35">102</text>
<text x="1365.7" y="546.4" font-size="35.5" textLength="59.3" lengthAdjust="spacingAndGlyphs" fill="#2c2c2c" stroke="#2c2c2c" stroke-width="0.35">215</text>
<text x="1440.5" y="546.4" font-size="35.5" textLength="63.0" lengthAdjust="spacingAndGlyphs" fill="#2c2c2c" stroke="#2c2c2c" stroke-width="0.35">092</text>
</g>
<g transform="rotate(-0.315 1119.3 1445.4)">
<text transform="translate(1118.7 1445.4) scale(1.1 1)" font-size="29.8" textLength="114.5" lengthAdjust="spacing" fill="#2c2c2c" stroke="#2c2c2c" stroke-width="0.9">Property</text>
<text transform="translate(1256.9 1445.4) scale(1.1 1)" font-size="29.8" textLength="27.5" lengthAdjust="spacing" fill="#2c2c2c" stroke="#2c2c2c" stroke-width="0.9">of</text>
<text transform="translate(1297.4 1445.4) scale(1.1 1)" font-size="29.8" textLength="83.8" lengthAdjust="spacing" fill="#2c2c2c" stroke="#2c2c2c" stroke-width="0.9">AT&amp;T</text>
</g>
<g transform="rotate(-0.172 2098.6 1445.8)">
<text x="2097.8" y="1445.8" font-size="28.4" textLength="99.7" lengthAdjust="spacingAndGlyphs" fill="#2c2c2c" font-weight="bold" stroke="#2c2c2c" stroke-width="0.3">Printed</text>
<text x="2206.1" y="1445.8" font-size="28.4" textLength="25.3" lengthAdjust="spacingAndGlyphs" fill="#2c2c2c" font-weight="bold" stroke="#2c2c2c" stroke-width="0.3">in</text>
</g>
<path d="M2244.6 1429 L2244.6 1439 Q2244.8 1442 2246 1442.5" stroke-width="2.2" stroke-linecap="round"/>
<path d="M2256.5 1428.5 L2257 1433" stroke-width="2" stroke-linecap="round"/>
<text x="2275.7" y="1445.2" font-size="28.4" textLength="14.5" lengthAdjust="spacingAndGlyphs" fill="#dedede" font-weight="bold" stroke="none">S</text>
<circle cx="2292.8" cy="1443.6" r="1.7" fill="#2c2c2c" stroke="none"/>
<text x="2299.8" y="1445.0" font-size="28.4" textLength="19.4" lengthAdjust="spacingAndGlyphs" fill="#2c2c2c" font-weight="bold" stroke="none">A</text>
<circle cx="2324.5" cy="1443.4" r="1.3" fill="#777" stroke="none"/>
</g>
</svg></body></html>
